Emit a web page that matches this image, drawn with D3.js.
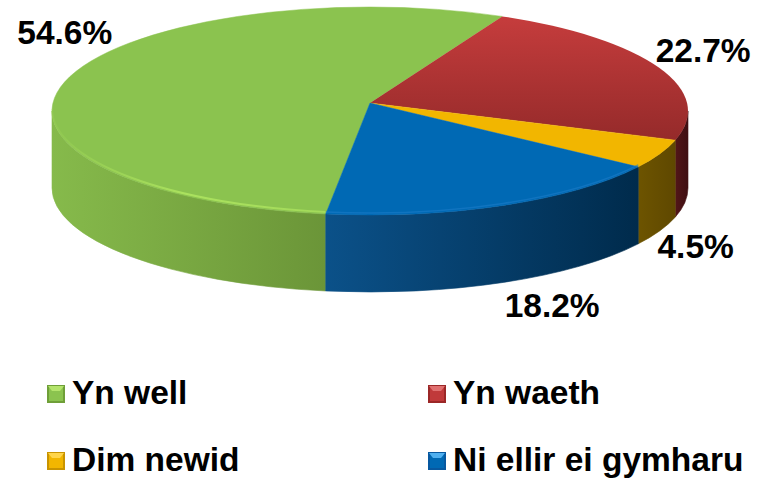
<!DOCTYPE html>
<html>
<head>
<meta charset="utf-8">
<script src="https://cdn.jsdelivr.net/npm/d3@7"></script>
<style>
  html, body { margin: 0; padding: 0; background: #ffffff; }
  svg { display: block; }
  text { font-family: "Liberation Sans", Arial, Helvetica, sans-serif; font-weight: bold; fill: #000; }
</style>
</head>
<body>
<svg id="chart" width="758" height="480"></svg>
<script>
// Survey answers (Welsh) and their shares, in percent
const categories = ["Yn well", "Yn waeth", "Dim newid", "Ni ellir ei gymharu"];
const shares = [54.6, 22.7, 4.5, 18.2];
const valueLabels = ["54.6%", "22.7%", "4.5%", "18.2%"];

// Colours: top face, side wall (light end, dark end), legend key
const topColours  = ["#8bc34f", "#c0393a", "#f2b600", "#0069b4"];
const wallLight   = ["#86ba4b", "#521518", "#6d5400", "#0b5189"];
const wallDark    = ["#6b9538", "#3f0f12", "#5f4800", "#002b4c"];
const keyLight    = ["#b4e46c", "#e07070", "#ffd54a", "#4fb0f0"];
const keyDark     = ["#6f9f38", "#9b2727", "#c99400", "#0758a0"];

// Layout of the tilted disc
const W = 758, H = 480;
const cx = 370, cy = 111, rx = 318, ry = 104, depth = 77;
const apex = [370, 103];
const startDeg = 188;
// Per-label nudges (pixels) from the rim point at each slice's mid angle
const labelNudge = [[0, -50], [44, -18], [36, 15], [49, 23]];

const svg = d3.select("#chart");
const defs = svg.append("defs");

const pie = d3.pie().sort(null).value(d => d)
  .startAngle(startDeg * Math.PI / 180)
  .endAngle(startDeg * Math.PI / 180 + 2 * Math.PI);
const arcs = pie(shares);

const rim = a => [cx + rx * Math.sin(a), cy - ry * Math.cos(a)];

// Elliptical arc from a0 to a1 (clockwise on screen), optional vertical shift
function arcCmd(a0, a1, dy, sweep) {
  const p = rim(a1);
  const large = Math.abs(a1 - a0) > Math.PI ? 1 : 0;
  return `A${rx},${ry} 0 ${large} ${sweep} ${p[0]},${p[1] + dy}`;
}

// Front-facing pieces of a slice's rim (angles between 90 and 270 degrees)
function frontSpans(a0, a1) {
  const out = [];
  for (let k = -1; k <= 2; k++) {
    const lo = Math.PI / 2 + 2 * Math.PI * k, hi = 3 * Math.PI / 2 + 2 * Math.PI * k;
    const s = Math.max(a0, lo), e = Math.min(a1, hi);
    if (e > s + 1e-6) out.push([s, e]);
  }
  return out;
}

// Side walls
arcs.forEach((d, i) => {
  frontSpans(d.startAngle, d.endAngle).forEach(([s, e], j) => {
    const ps = rim(s), pe = rim(e);
    const xs = [ps[0], pe[0]].sort((a, b) => a - b);
    const gid = `wall-${i}-${j}`;
    const g = defs.append("linearGradient").attr("id", gid)
      .attr("gradientUnits", "userSpaceOnUse")
      .attr("x1", xs[0]).attr("x2", xs[1]).attr("y1", 0).attr("y2", 0);
    g.append("stop").attr("offset", 0).attr("stop-color", wallLight[i]);
    g.append("stop").attr("offset", 1).attr("stop-color", wallDark[i]);
    const path = `M${ps[0]},${ps[1]} ${arcCmd(s, e, 0, 1)} L${pe[0]},${pe[1] + depth} ` +
                 `A${rx},${ry} 0 ${Math.abs(e - s) > Math.PI ? 1 : 0} 0 ${ps[0]},${ps[1] + depth} Z`;
    svg.append("path").attr("d", path).attr("fill", `url(#${gid})`)
      .attr("stroke", `url(#${gid})`).attr("stroke-width", 0.6);
  });
});

// Red top face gets a soft vertical shade
const redShade = defs.append("linearGradient").attr("id", "top-1")
  .attr("gradientUnits", "userSpaceOnUse").attr("x1", 0).attr("x2", 0).attr("y1", 20).attr("y2", 140);
redShade.append("stop").attr("offset", 0).attr("stop-color", "#c43c3c");
redShade.append("stop").attr("offset", 1).attr("stop-color", "#952a2a");

// Top faces
arcs.forEach((d, i) => {
  const p0 = rim(d.startAngle);
  const path = `M${apex[0]},${apex[1]} L${p0[0]},${p0[1]} ${arcCmd(d.startAngle, d.endAngle, 0, 1)} Z`;
  svg.append("path").attr("d", path)
    .attr("fill", i === 1 ? "url(#top-1)" : topColours[i])
    .attr("stroke", i === 1 ? "none" : topColours[i]).attr("stroke-width", 0.5);
});

// Light rim along the front edge of the green and blue tops
const hl = defs.append("linearGradient").attr("id", "rim-green")
  .attr("gradientUnits", "userSpaceOnUse").attr("x1", 60).attr("x2", 310).attr("y1", 0).attr("y2", 0);
hl.append("stop").attr("offset", 0).attr("stop-color", "#a9df5c").attr("stop-opacity", 0.2);
hl.append("stop").attr("offset", 0.5).attr("stop-color", "#aee560").attr("stop-opacity", 0.9);
hl.append("stop").attr("offset", 1).attr("stop-color", "#aee560").attr("stop-opacity", 0.7);
[0, 3].forEach(i => {
  const d = arcs[i];
  frontSpans(d.startAngle, d.endAngle).forEach(([s, e]) => {
    const ps = rim(s);
    svg.append("path")
      .attr("d", `M${ps[0]},${ps[1] - 2} ${arcCmd(s, e, -2, 1)}`)
      .attr("fill", "none")
      .attr("stroke", i === 0 ? "url(#rim-green)" : "#1a7bc8")
      .attr("stroke-width", i === 0 ? 2 : 1.5)
      .attr("stroke-opacity", i === 0 ? 1 : 0.6);
  });
});

// Value labels
arcs.forEach((d, i) => {
  const mid = (d.startAngle + d.endAngle) / 2;
  const p = rim(mid);
  const front = Math.cos(mid) < 0;
  const x = p[0] + labelNudge[i][0];
  const y = p[1] + (front ? depth : 0) + labelNudge[i][1];
  svg.append("text")
    .attr("x", x).attr("y", y + 12)
    .attr("text-anchor", "middle")
    .attr("font-size", 33.5)
    .text(valueLabels[i]);
});

// Legend: two columns, two rows
const legendX = d3.scaleOrdinal().domain([0, 1]).range([47, 428]);
const legendY = d3.scaleOrdinal().domain([0, 1]).range([385, 452]);
categories.forEach((name, i) => {
  const g = svg.append("g")
    .attr("transform", `translate(${legendX(i % 2)},${legendY(Math.floor(i / 2))})`);
  const s = 18;
  g.append("rect").attr("width", s).attr("height", s).attr("fill", keyDark[i]);
  g.append("rect").attr("x", 2).attr("y", 2).attr("width", s - 4).attr("height", s - 4).attr("fill", topColours[i]);
  g.append("path").attr("d", `M1,1 L${s - 1},1 L${s - 5},6 L5,6 Z`).attr("fill", keyLight[i]);
  g.append("text")
    .attr("x", 25).attr("y", 19)
    .attr("font-size", 33.5)
    .text(name);
});
</script>
</body>
</html>
